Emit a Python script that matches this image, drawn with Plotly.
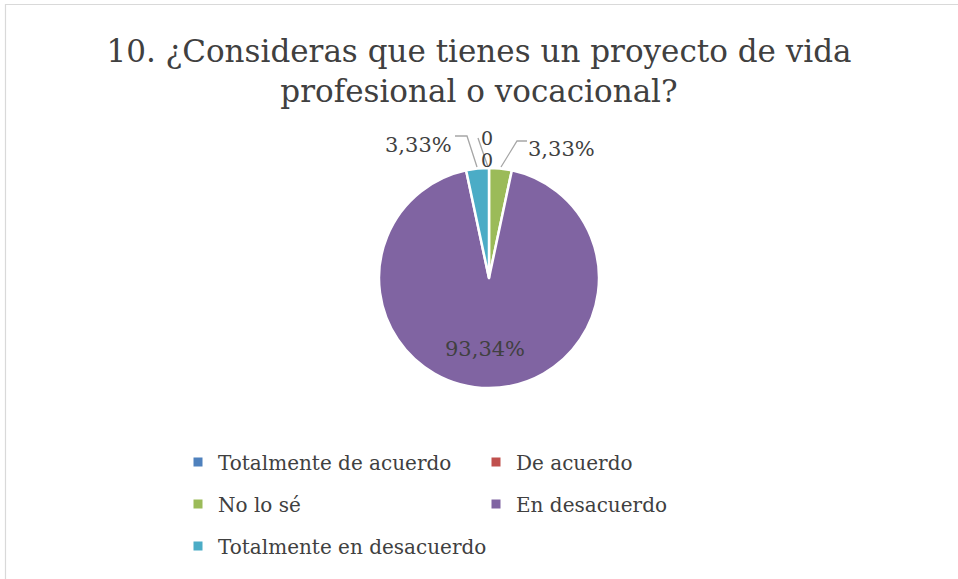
import plotly.graph_objects as go

W, H = 958, 579

categories = ["Totalmente de acuerdo", "De acuerdo", "No lo sé", "En desacuerdo", "Totalmente en desacuerdo"]
values = [0, 0, 3.33, 93.34, 3.33]
colors = ["#4F81BD", "#C0504D", "#9BBB59", "#8064A2", "#4BACC6"]
title = "10. ¿Consideras que tienes un proyecto de vida<br>profesional o vocacional?"

FONT = "DejaVu Serif"
TXT = "#404040"

def fmt(v):
    return "0" if v == 0 else f"{v:.2f}".replace(".", ",") + "%"

def px(x, y):
    return x / W, 1 - y / H

fig = go.Figure()
fig.add_trace(go.Pie(
    labels=categories, values=values, sort=False, direction="clockwise", rotation=0,
    marker=dict(colors=colors, line=dict(color="white", width=2.5)),
    textinfo="none",
    domain=dict(x=[379 / W, 599 / W], y=[1 - 388 / H, 1 - 168 / H]),
    showlegend=False, hoverinfo="label+value",
))

# dummy legend traces (three rows, two columns)
legend_ids = ["legend", "legend", "legend2", "legend2", "legend3"]
for cat, col, lg in zip(categories, colors, legend_ids):
    fig.add_trace(go.Scatter(
        x=[None], y=[None], mode="markers", name=cat, legend=lg,
        marker=dict(symbol="square", size=9, color=col), showlegend=True,
    ))

leg_common = dict(orientation="h", xanchor="left", yanchor="middle",
                  font=dict(family=FONT, size=20, color=TXT), bgcolor="rgba(0,0,0,0)",
                  itemclick=False, itemdoubleclick=False)
lx = 178 / W
fig.update_layout(
    legend=dict(x=lx, y=1 - 462 / H, entrywidth=253, **leg_common),
    legend2=dict(x=lx, y=1 - 504 / H, entrywidth=253, **leg_common),
    legend3=dict(x=lx, y=1 - 546 / H, **leg_common),
)

# data labels
anns = []
label_pos = {
    4: (418, 131),   # Totalmente en desacuerdo (left)
    2: (561, 135),   # No lo sé (right)
    0: (487, 125),
    1: (487, 147),
    3: (485, 349),   # En desacuerdo (inside)
}
for i, (a, b) in label_pos.items():
    x, y = px(a, b)
    size = 19 if values[i] == 0 else 21
    anns.append(dict(x=x, y=y, text=fmt(values[i]), showarrow=False, xref="paper", yref="paper",
                     font=dict(family=FONT, size=size, color=TXT)))

def path(points):
    d = ""
    for i, (a, b) in enumerate(points):
        xx, yy = px(a, b)
        d += ("M" if i == 0 else "L") + f"{xx},{yy} "
    return d

shapes = []
line_style = dict(color="#A6A6A6", width=1.3)
for pts in [
    [(455, 136), (467, 136), (477, 167)],
    [(527, 141), (517, 141), (501, 167)],
    [(478, 138), (488, 167)],
]:
    shapes.append(dict(type="path", path=path(pts), xref="paper", yref="paper", line=line_style))

# chart frame
shapes.append(dict(type="rect", x0=5.5 / W, y0=-0.1, x1=1.1, y1=1 - 4.5 / H, xref="paper", yref="paper",
                   line=dict(color="#D9D9D9", width=1.2), layer="below"))

fig.update_layout(
    width=W, height=H,
    margin=dict(l=0, r=0, t=0, b=0),
    paper_bgcolor="white", plot_bgcolor="white",
    separators=",.",
    title=dict(text=title, x=0.5, xanchor="center", y=1 - 62 / H, yanchor="middle",
               font=dict(family=FONT, size=31, color=TXT)),
    xaxis=dict(visible=False), yaxis=dict(visible=False),
    annotations=anns, shapes=shapes,
)

fig.write_html("out.html", config={"displayModeBar": False},
               post_script="document.body.style.margin='0px';")
